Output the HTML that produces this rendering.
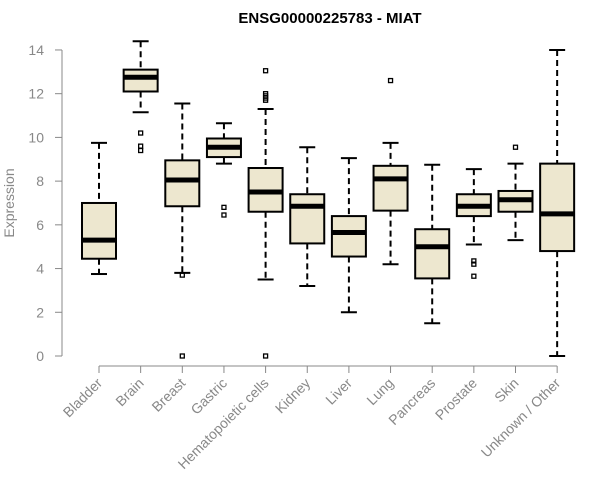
<!DOCTYPE html>
<html><head><meta charset="utf-8"><style>
body{margin:0;background:#fff;}
svg{display:block;font-family:"Liberation Sans",Arial,sans-serif;}
</style></head><body>
<svg id="chart" width="600" height="500">
<text x="330" y="23" text-anchor="middle" font-size="15" font-weight="bold" fill="#000">ENSG00000225783 - MIAT</text>
<text transform="translate(14,203) rotate(-90)" text-anchor="middle" font-size="14" fill="#888">Expression</text>
<g id="axes"></g><g id="boxes"></g>
</svg>
<script>
const categories=["Bladder","Brain","Breast","Gastric","Hematopoietic cells","Kidney","Liver","Lung","Pancreas","Prostate","Skin","Unknown / Other"];
const whiskerLow=[3.75,11.15,3.8,8.8,3.5,3.2,2.0,4.2,1.5,5.1,5.3,0];
const q1=[4.45,12.1,6.85,9.1,6.6,5.15,4.55,6.65,3.55,6.4,6.6,4.8];
const medians=[5.3,12.75,8.05,9.55,7.5,6.85,5.65,8.1,5.0,6.85,7.15,6.5];
const q3=[7.0,13.1,8.95,9.95,8.6,7.4,6.4,8.7,5.8,7.4,7.55,8.8];
const whiskerHigh=[9.75,14.4,11.55,10.65,11.3,9.55,9.05,9.75,8.75,8.55,8.8,14.0];
const outliers=[[],[10.2,9.6,9.4],[3.7,0],[6.8,6.45],[13.05,12.0,11.9,11.8,11.7,0],[],[],[12.6],[],[4.35,4.2,3.65],[9.55],[]];
const yTicks=[0,2,4,6,8,10,12,14];
const NS="http://www.w3.org/2000/svg";
const y=v=>356-v*21.86;
const x=i=>99+i*41.65;
function mk(t,a,p){const e=document.createElementNS(NS,t);for(const k in a)e.setAttribute(k,a[k]);p.appendChild(e);return e;}
const ax=document.getElementById('axes'),bx=document.getElementById('boxes');
const yl=mk('line',{x1:62,x2:62,y1:y(14),y2:y(0),stroke:'#888'},ax);


yTicks.forEach(t=>{
  mk('line',{x1:55,x2:62,y1:y(t),y2:y(t),stroke:'#888'},ax);
  const tx=mk('text',{x:44,y:y(t)+5,'text-anchor':'end','font-size':14,fill:'#888'},ax);
  tx.textContent=t;
  
  
});
const xl=mk('line',{x1:x(0),x2:x(11),y1:366,y2:366,stroke:'#888'},ax);


categories.forEach((c,i)=>{
  const cx=x(i);
  mk('line',{x1:cx,x2:cx,y1:366,y2:373,stroke:'#888'},ax);
  const tx=mk('text',{x:cx+4,y:384,'text-anchor':'end','font-size':14,fill:'#888',transform:`rotate(-45 ${cx+4} 384)`},ax);
  tx.textContent=c;
  
  
  const g=mk('g',{},bx);
  
  
  const hw=17;
  mk('line',{x1:cx,x2:cx,y1:y(whiskerHigh[i]),y2:y(q3[i]),stroke:'#000','stroke-width':2,'stroke-dasharray':'6,4'},g);
  mk('line',{x1:cx,x2:cx,y1:y(q1[i]),y2:y(whiskerLow[i]),stroke:'#000','stroke-width':2,'stroke-dasharray':'6,4'},g);
  mk('line',{x1:cx-8,x2:cx+8,y1:y(whiskerHigh[i]),y2:y(whiskerHigh[i]),stroke:'#000','stroke-width':2},g);
  mk('line',{x1:cx-8,x2:cx+8,y1:y(whiskerLow[i]),y2:y(whiskerLow[i]),stroke:'#000','stroke-width':2},g);
  mk('rect',{x:cx-hw,y:y(q3[i]),width:hw*2,height:y(q1[i])-y(q3[i]),fill:'#ede7cf',stroke:'#000','stroke-width':2},g);
  mk('line',{x1:cx-hw,x2:cx+hw,y1:y(medians[i]),y2:y(medians[i]),stroke:'#000','stroke-width':5},g);
  outliers[i].forEach(o=>mk('rect',{x:cx-2,y:y(o)-2,width:4,height:4,fill:'none',stroke:'#000','stroke-width':1.3},g));
});
</script>
</body></html>
